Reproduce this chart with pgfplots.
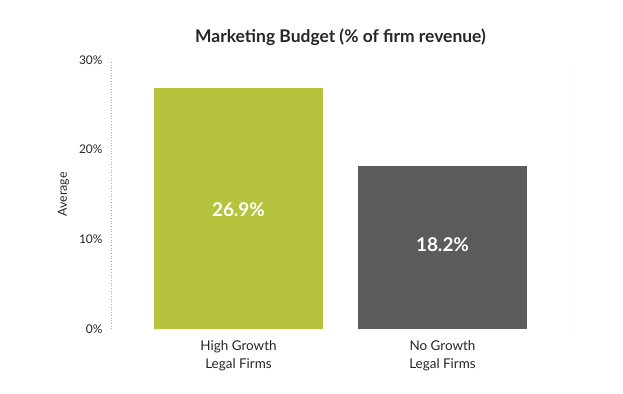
\documentclass[border=0pt]{standalone}
\usepackage{pgfplots}
\pgfplotsset{compat=1.18}
\usepackage{fontspec}
\setmainfont{Lato}
\definecolor{barGreen}{HTML}{B5C43C}
\definecolor{barGray}{HTML}{5B5B5B}
\definecolor{dotGray}{HTML}{AAAAAA}
\begin{document}
\begin{tikzpicture}[x=1bp,y=1bp]
\path[use as bounding box] (0,0) rectangle (623,393);
\begin{axis}[
  at={(111bp,64bp)}, anchor=south west,
  scale only axis, width=459bp, height=269bp,
  xmin=-0.625, xmax=1.625, ymin=0, ymax=30,
  xtick={0,1},
  xticklabels={High Growth\\Legal Firms, No Growth\\Legal Firms},
  xticklabel style={align=center, font=\fontsize{13.5}{18}\selectfont, text=black!85, yshift=-8pt},
  ytick={0,10,20,30},
  yticklabels={0\%,10\%,20\%,30\%},
  yticklabel style={font=\fontsize{12}{14}\selectfont, text=black!85, xshift=-5pt},
  major tick length=0pt,
  axis x line*=bottom,
  axis y line*=left,
  separate axis lines,
  x axis line style={draw=none},
  y axis line style={draw=dotGray, dotted, line width=0.7pt},
  ylabel={Average},
  ylabel style={font=\fontsize{12.5}{14}\selectfont, text=black!85},
  ylabel shift=3pt,
  title={Marketing Budget (\% of firm revenue)},
  title style={font=\bfseries\fontsize{17.5}{20}\selectfont, text=black!85, yshift=5pt},
  ybar, bar width=0.83, bar shift=0pt,
]
\addplot[fill=barGreen, draw=none] coordinates {(0,26.9)};
\addplot[fill=barGray, draw=none] coordinates {(1,18.2)};
\addplot[only marks, mark=none, nodes near coords, point meta=explicit symbolic,
  every node near coord/.style={anchor=center, text=white, font=\bfseries\fontsize{19}{21}\selectfont}]
  coordinates {(0,13.3)[26.9\%] (1,9.4)[18.2\%]};
\draw[dotGray, dotted, line width=0.7pt] (axis cs:1.625,0) -- (axis cs:1.625,30);
\end{axis}
\end{tikzpicture}
\end{document}
